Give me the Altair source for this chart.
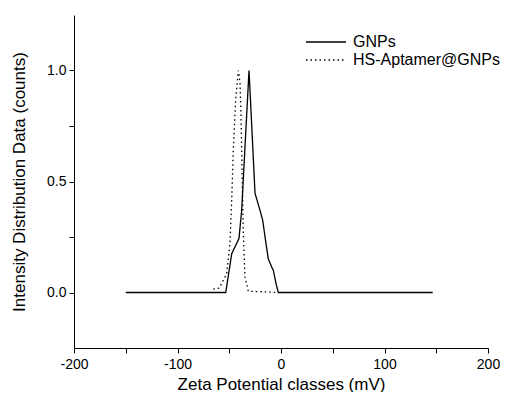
import altair as alt
import pandas as pd

# GNPs (solid)
gnp_x = [-150, -53.4, -47.6, -40.6, -38.0, -30.9, -25.1, -20.3, -17.7, -14.5, -12.2, -9.0, -7.4, -4.8, -2.6, 146.6]
gnp_y = [0, 0, 0.175, 0.243, 0.37, 1.0, 0.447, 0.37, 0.326, 0.22, 0.15, 0.115, 0.10, 0.04, 0, 0]

# HS-Aptamer@GNPs (dotted)
apt_x = [-65.4, -59.6, -52.5, -49.3, -47.6, -46.1, -43.8, -41.2, -39.6, -38.6, -37.7, -36.4, -34.8, -31.6, -2.6]
apt_y = [0.015, 0.02, 0.085, 0.22, 0.42, 0.64, 0.87, 1.0, 0.944, 0.79, 0.57, 0.265, 0.07, 0.006, 0]

series_names = ["GNPs", "HS-Aptamer@GNPs"]

rows = []
for i, (x, y) in enumerate(zip(gnp_x, gnp_y)):
    rows.append({"x": x, "y": y, "s": series_names[0], "o": i})
for i, (x, y) in enumerate(zip(apt_x, apt_y)):
    rows.append({"x": x, "y": y, "s": series_names[1], "o": i})
df = pd.DataFrame(rows)

font = "Liberation Sans"

chart = alt.Chart(df).mark_line(color="black", strokeWidth=1.3).encode(
    x=alt.X("x:Q", scale=alt.Scale(domain=[-200, 200], nice=False, zero=False),
            axis=alt.Axis(title="Zeta Potential classes (mV)",
                          values=[-200, -150, -100, -50, 0, 50, 100, 150, 200],
                          labelExpr="datum.value % 100 == 0 ? '' + datum.value : ''",
                          grid=False, labelPadding=4, labelFlush=False)),
    y=alt.Y("y:Q", scale=alt.Scale(domain=[-0.25, 1.25], nice=False, zero=False),
            axis=alt.Axis(title="Intensity Distribution Data (counts)",
                          values=[0, 0.25, 0.5, 0.75, 1.0],
                          labelExpr="datum.value % 0.5 == 0 ? format(datum.value, '.1f') : ''",
                          grid=False, labelPadding=3, labelFlush=False)),
    strokeDash=alt.StrokeDash("s:N", scale=alt.Scale(domain=series_names, range=[[1, 0], [1.5, 3]]),
                              legend=alt.Legend(title=None, orient="none", legendX=244, legendY=19,
                                                symbolType="M-4,0L4,0", symbolSize=100, symbolStrokeWidth=1.3,
                                                symbolStrokeColor="black",
                                                labelFontSize=16, labelFont=font, labelColor="black",
                                                rowPadding=2, labelOffset=19)),
    detail="s:N",
    order="o:Q",
).properties(
    width=414, height=333,
    autosize=alt.AutoSizeParams(type="none"),
    padding={"left": 66, "top": 7, "right": 14, "bottom": 44},
).configure_axis(
    domainColor="black", tickColor="black", labelColor="black", titleColor="black",
    labelFont=font, titleFont=font, labelFontSize=14, titleFontSize=17,
    titleFontWeight="normal", tickSize=5,
).configure_axisX(titlePadding=5).configure_axisY(titlePadding=18).configure_view(stroke=None)

chart.save("out.html", embed_options={"renderer": "svg", "actions": False})
